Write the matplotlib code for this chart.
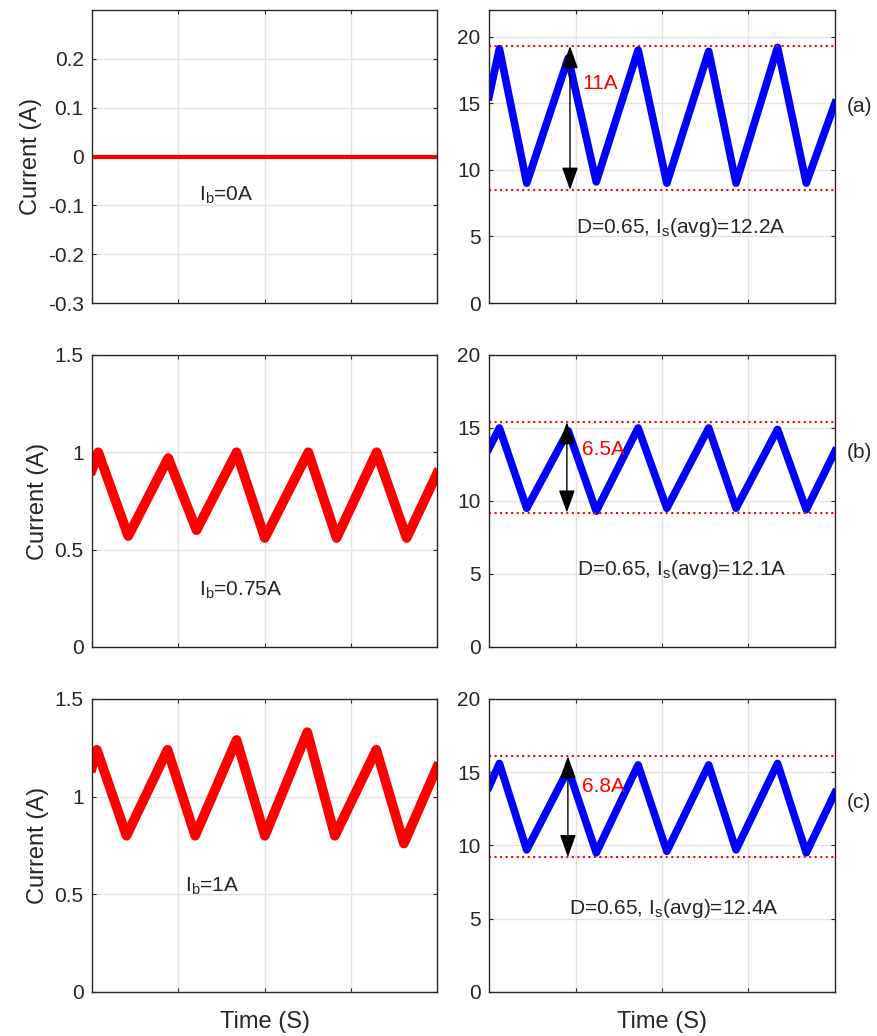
#!/usr/bin/env python3
"""
Battery / source current waveforms for three battery currents.
"""

import matplotlib
matplotlib.use('Agg')
import matplotlib.pyplot as plt

plt.rcParams['font.family'] = ['Liberation Sans', 'DejaVu Sans']
plt.rcParams['mathtext.fontset'] = 'custom'
plt.rcParams['mathtext.rm'] = 'Liberation Sans'

# ---- data (time as fraction of the displayed window) ----
# left column: battery current I_b
T_B0 = [0.0, 1.0]
I_B0 = [0.0, 0.0]

T_B1 = [0.0, 0.018, 0.105, 0.221, 0.303, 0.419, 0.501, 0.627, 0.709, 0.825, 0.912, 1.0]
I_B1 = [0.91, 1.0, 0.57, 0.97, 0.6, 1.0, 0.56, 1.0, 0.56, 1.0, 0.56, 0.89]

T_B2 = [0.0, 0.014, 0.10, 0.219, 0.299, 0.419, 0.501, 0.624, 0.704, 0.824, 0.904, 1.0]
I_B2 = [1.15, 1.24, 0.8, 1.24, 0.8, 1.29, 0.8, 1.33, 0.8, 1.24, 0.76, 1.15]

# right column: source current I_s
T_S = [0.0, 0.03, 0.109, 0.229, 0.31, 0.431, 0.514, 0.635, 0.714, 0.834, 0.917, 1.0]
I_S0 = [15.5, 19.1, 9.0, 18.4, 9.1, 19.0, 9.0, 18.9, 9.0, 19.2, 9.0, 15.0]
I_S1 = [13.6, 15.0, 9.5, 14.8, 9.3, 15.0, 9.5, 15.0, 9.5, 14.9, 9.4, 13.4]
I_S2 = [14.0, 15.6, 9.7, 15.2, 9.5, 15.5, 9.6, 15.5, 9.7, 15.6, 9.5, 13.6]

RIPPLE_HI = [19.3, 15.4, 16.1]
RIPPLE_LO = [8.5, 9.2, 9.2]
RIPPLE_TXT = ['11A', '6.5A', '6.8A']
AVG_TXT = ['D=0.65, I$_\\mathregular{s}$(avg)=12.2A',
           'D=0.65, I$_\\mathregular{s}$(avg)=12.1A',
           'D=0.65, I$_\\mathregular{s}$(avg)=12.4A']
IB_TXT = ['I$_\\mathregular{b}$=0A', 'I$_\\mathregular{b}$=0.75A', 'I$_\\mathregular{b}$=1A']
PANEL_TXT = ['(a)', '(b)', '(c)']

LEFT_YLIM = [(-0.3, 0.3), (0, 1.5), (0, 1.5)]
LEFT_YTICKS = [[-0.3, -0.2, -0.1, 0, 0.1, 0.2], [0, 0.5, 1, 1.5], [0, 0.5, 1, 1.5]]
LEFT_YTICKLABELS = [['-0.3', '-0.2', '-0.1', '0', '0.1', '0.2'],
                    ['0', '0.5', '1', '1.5'], ['0', '0.5', '1', '1.5']]
RIGHT_YLIM = [(0, 22), (0, 20), (0, 20)]

# ---- layout ----
fig = plt.figure(figsize=(8.77, 10.36), dpi=100)
ROW_BOTTOM = [0.7075, 0.3755, 0.0425]
ROW_HEIGHT = [0.2828, 0.2819, 0.2828]
LEFT_X, LEFT_W = 0.1049, 0.3934
RIGHT_X, RIGHT_W = 0.5576, 0.3945


def style(ax):
    ax.set_xlim(0, 1)
    ax.set_xticks([0.25, 0.5, 0.75])
    ax.set_xticklabels([])
    ax.grid(True, color='#e3e3e3', linewidth=1)
    ax.set_axisbelow(True)
    ax.tick_params(direction='in', length=3, width=0.8, color='#262626',
                   top=True, right=True, labelsize=15, labelcolor='#262626', pad=6)
    for sp in ax.spines.values():
        sp.set_color('#262626')
        sp.set_linewidth(1.0)


left_data = [(T_B0, I_B0, 3), (T_B1, I_B1, 7), (T_B2, I_B2, 7)]
right_data = [I_S0, I_S1, I_S2]

# text positions (x in window fraction, y in data units)
IB_POS = [(0.31, -0.08), (0.31, 0.29), (0.27, 0.54)]
AVG_POS = [(0.25, 5.7), (0.255, 5.3), (0.23, 5.7)]
ARROW_X = [0.234, 0.225, 0.228]
RIP_POS = [(0.27, 16.5), (0.27, 13.5), (0.268, 14.0)]
PANEL_Y = [0.67, 0.665, 0.645]

for r in range(3):
    axl = fig.add_axes([LEFT_X, ROW_BOTTOM[r], LEFT_W, ROW_HEIGHT[r]])
    t, i, lw = left_data[r]
    axl.plot(t, i, color='red', linewidth=lw, solid_joinstyle='round')
    axl.set_ylim(*LEFT_YLIM[r])
    axl.set_yticks(LEFT_YTICKS[r])
    axl.set_yticklabels(LEFT_YTICKLABELS[r])
    style(axl)
    axl.set_ylabel('Current (A)', fontsize=17, color='#262626', labelpad=4)
    axl.text(IB_POS[r][0], IB_POS[r][1], IB_TXT[r], fontsize=15,
             color='#262626', va='center')
    if r == 2:
        axl.set_xlabel('Time (S)', fontsize=17, color='#262626', labelpad=8)

    axr = fig.add_axes([RIGHT_X, ROW_BOTTOM[r], RIGHT_W, ROW_HEIGHT[r]])
    axr.plot(T_S, right_data[r], color='blue', linewidth=5.5, solid_joinstyle='round')
    axr.set_ylim(*RIGHT_YLIM[r])
    axr.set_yticks([0, 5, 10, 15, 20])
    style(axr)
    axr.axhline(RIPPLE_HI[r], color='red', linestyle=':', linewidth=1.5)
    axr.axhline(RIPPLE_LO[r], color='red', linestyle=':', linewidth=1.5)
    axr.annotate('', xy=(ARROW_X[r], RIPPLE_HI[r]), xytext=(ARROW_X[r], RIPPLE_LO[r]),
                 arrowprops=dict(arrowstyle='<|-|>,head_length=0.7,head_width=0.25',
                                 color='black', lw=1, mutation_scale=20,
                                 shrinkA=0, shrinkB=0))
    axr.text(RIP_POS[r][0], RIP_POS[r][1], RIPPLE_TXT[r], fontsize=15,
             color='red', va='center')
    axr.text(AVG_POS[r][0], AVG_POS[r][1], AVG_TXT[r], fontsize=15,
             color='#262626', va='center')
    axr.text(1.035, PANEL_Y[r], PANEL_TXT[r], transform=axr.transAxes,
             fontsize=15, color='#262626', va='center')
    if r == 2:
        axr.set_xlabel('Time (S)', fontsize=17, color='#262626', labelpad=8)

fig.savefig('out.png', dpi=100)
